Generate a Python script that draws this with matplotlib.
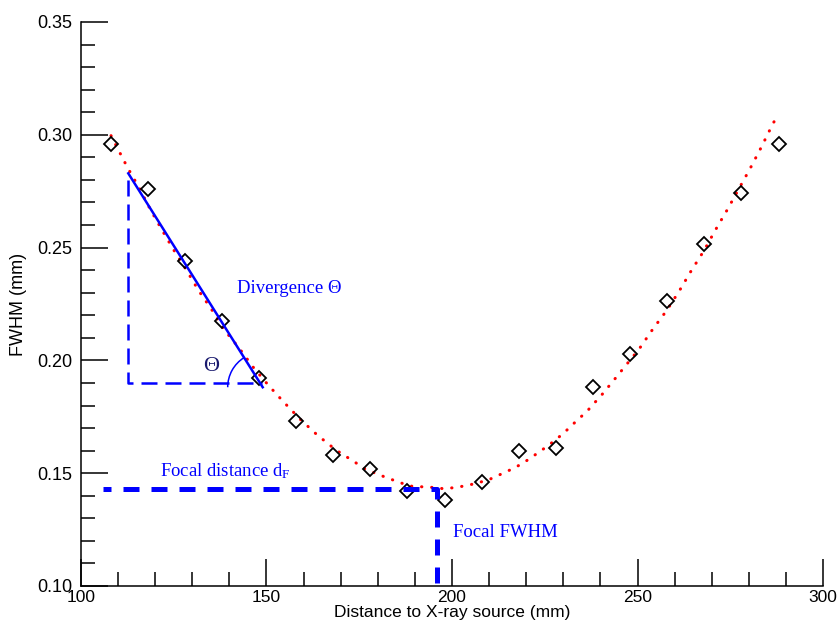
import numpy as np
import matplotlib
matplotlib.use("Agg")
import matplotlib.pyplot as plt
from matplotlib.patches import Arc
from matplotlib.ticker import MultipleLocator

# measured beam width along the optical axis
dist = [108, 118, 128, 138, 148, 158, 168, 178, 188, 198,
        208, 218, 228, 238, 248, 258, 268, 278, 288]
fwhm = [0.296, 0.276, 0.244, 0.2175, 0.192, 0.173, 0.158, 0.152, 0.142, 0.138,
        0.146, 0.160, 0.161, 0.188, 0.203, 0.2265, 0.2515, 0.274, 0.296]

# fitted caustic
fit_dist = [108.1, 112.5, 115.7, 118.6, 121.7, 124.9, 128.3, 131.6, 135.2, 138.5,
            142.6, 146.3, 150.4, 154.6, 159.1, 163.7, 168.7, 174.0, 176.7, 182.4,
            188.6, 191.6, 194.7, 197.9, 201.1, 204.2, 207.2, 210.3, 213.1, 216.0,
            218.9, 221.4, 224.1, 226.6, 229.1, 231.5, 233.8, 236.2, 238.2, 240.4,
            242.4, 244.4, 246.4, 248.5, 250.5, 254.1, 257.9, 261.3, 264.5, 267.9,
            271.0, 274.2, 277.3, 280.4, 283.3, 286.1, 287.6]
fit_fwhm = [0.2996, 0.2856, 0.2764, 0.2672, 0.2582, 0.2492, 0.2404, 0.2312, 0.2226, 0.2138,
            0.2055, 0.1972, 0.1892, 0.1816, 0.1739, 0.1669, 0.1603, 0.1547, 0.1517, 0.1480,
            0.1443, 0.1440, 0.1437, 0.1431, 0.1437, 0.1446, 0.1458, 0.1474, 0.1495, 0.1517,
            0.1542, 0.1570, 0.1601, 0.1631, 0.1664, 0.1699, 0.1736, 0.1771, 0.1808, 0.1848,
            0.1888, 0.1928, 0.1969, 0.2011, 0.2052, 0.2138, 0.2222, 0.2309, 0.2398, 0.2486,
            0.2578, 0.2668, 0.2760, 0.2852, 0.2943, 0.3036, 0.3083]

# divergence construction
div_x = [112.75, 148.98]
div_y = [0.2829, 0.1881]
tri_x = [112.6, 112.6, 148.7]
tri_y = [0.2800, 0.1898, 0.1898]

# focal point markers
focus_x = [106.0, 195.9, 195.9]
focus_y = [0.1429, 0.1429, 0.10]

plt.rcParams['mathtext.fontset'] = 'custom'
plt.rcParams['mathtext.rm'] = 'Liberation Serif'
plt.rcParams['mathtext.it'] = 'Liberation Serif:italic'

fig = plt.figure(figsize=(8.4, 6.26), dpi=100)
ax = fig.add_axes([0.0964, 0.0639, 0.8834, 0.901])

ax.set_xlim(100, 300)
ax.set_ylim(0.10, 0.35)

ax.plot(fit_dist, fit_fwhm, color='red', lw=2.2, linestyle=(0, (0.1, 3.2)),
        dash_capstyle='round', zorder=2)
ax.plot(dist, fwhm, 'D', mfc='none', mec='black', ms=7, mew=1.3, zorder=3)

blue = '#0000ff'
ax.plot(div_x, div_y, color=blue, lw=1.8, zorder=4)
ax.plot(tri_x, tri_y, color=blue, lw=1.8, linestyle=(0, (6.4, 3.2)), zorder=4)
ax.plot(focus_x, focus_y, color=blue, lw=3.6, linestyle=(1.6, (3.2, 2.4)), zorder=4)

# angle arc at the lower end of the divergence line
r_px = 35
px_x = ax.bbox.width / 200
px_y = ax.bbox.height / 0.25
ang = np.degrees(np.arctan2(div_y[0] - div_y[1], div_x[0] - div_x[1]))
ax.add_patch(Arc((div_x[1], div_y[1]), 2 * r_px / px_x, 2 * r_px / px_y,
                 theta1=ang, theta2=180, color=blue, lw=1.1, zorder=4))

serif = 'Liberation Serif'
ax.text(142.0, 0.2320, 'Divergence Θ', color=blue, fontsize=13.5, family=serif,
        ha='left', va='center')
ax.text(135.2, 0.1975, 'Θ', color='#1a1a6e', fontsize=16, family=serif,
        ha='center', va='center')
ax.text(121.3, 0.1511, r'Focal distance d$_\mathrm{F}$', color=blue, fontsize=13.5,
        family=serif, ha='left', va='center')
ax.text(200.3, 0.1236, 'Focal FWHM', color=blue, fontsize=13.5, family=serif,
        ha='left', va='center')

for side in ['top', 'right']:
    ax.spines[side].set_visible(False)
for side in ['left', 'bottom']:
    ax.spines[side].set_linewidth(1.1)

ax.xaxis.set_major_locator(MultipleLocator(50))
ax.xaxis.set_minor_locator(MultipleLocator(10))
ax.yaxis.set_major_locator(MultipleLocator(0.05))
ax.yaxis.set_minor_locator(MultipleLocator(0.01))
ax.yaxis.set_major_formatter(matplotlib.ticker.FormatStrFormatter('%.2f'))

ax.tick_params(which='major', direction='in', length=19.5, width=1.1,
               labelsize=13, top=False, right=False)
ax.tick_params(which='minor', direction='in', length=10, width=1.1,
               top=False, right=False)
ax.tick_params(axis='y', which='major', pad=6.5)
ax.tick_params(axis='x', which='major', pad=3, labelsize=12.5)
for lab in ax.get_xticklabels() + ax.get_yticklabels():
    lab.set_family('Liberation Sans')

ax.set_xlabel('Distance to X-ray source (mm)', fontsize=12.5, family='Liberation Sans',
              labelpad=0)
ax.set_ylabel('FWHM (mm)', fontsize=13, family='Liberation Sans', labelpad=7)

fig.savefig('out.png', dpi=100)
